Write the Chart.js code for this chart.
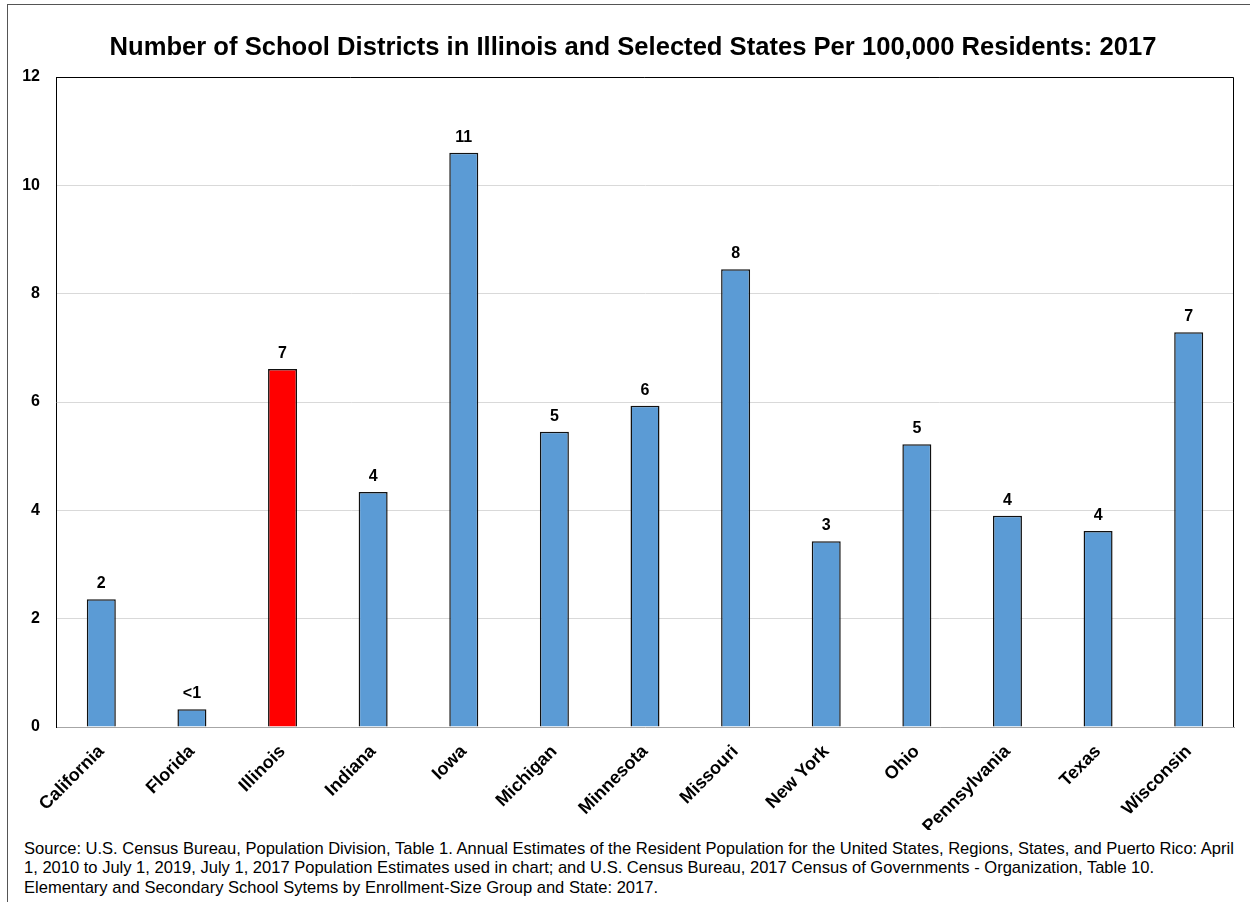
<!DOCTYPE html>
<html>
<head>
<meta charset="utf-8">
<script src="https://cdn.jsdelivr.net/npm/chart.js@4.4.1/dist/chart.umd.min.js"></script>
<style>
  html, body { margin: 0; padding: 0; background: #fff; overflow: hidden; }
  body { width: 1250px; height: 902px; position: relative; }
  #frame { position: absolute; left: 7px; top: 4px; width: 1270px; height: 920px; border: 1px solid #555; box-sizing: border-box; }
  #chart { position: absolute; left: 0; top: 0; }
  #titulo {
    position: absolute; left: 0; top: 31px; width: 1266px; text-align: center; white-space: nowrap;
    font-family: "Liberation Sans", Arial, sans-serif; font-weight: bold; font-size: 25.6px; line-height: 30px; color: #000;
  }
  #source {
    position: absolute; left: 24px; top: 839px; width: 1226px; white-space: nowrap;
    font-family: "Liberation Sans", Arial, sans-serif; font-size: 16.55px; line-height: 19.3px; color: #000;
  }
</style>
</head>
<body>
<div id="frame"></div>
<canvas id="chart" width="1250" height="830"></canvas>
<div id="titulo">Number of School Districts in Illinois and Selected States Per 100,000 Residents: 2017</div>
<div id="source">Source: U.S. Census Bureau, Population Division, Table 1. Annual Estimates of the Resident Population for the United States, Regions, States, and Puerto Rico: April<br>1, 2010 to July 1, 2019, July 1, 2017 Population Estimates used in chart; and U.S. Census Bureau, 2017 Census of Governments - Organization, Table 10.<br>Elementary and Secondary School Sytems by Enrollment-Size Group and State: 2017.</div>
<script>
// Distritos escolares por cada 100.000 habitantes (2017)
const estados = ['California', 'Florida', 'Illinois', 'Indiana', 'Iowa', 'Michigan', 'Minnesota',
  'Missouri', 'New York', 'Ohio', 'Pennsylvania', 'Texas', 'Wisconsin'];
const distritos = [2.36, 0.33, 6.61, 4.34, 10.6, 5.45, 5.93, 8.45, 3.43, 5.22, 3.9, 3.62, 7.29];
const yTicks = [0, 2, 4, 6, 8, 10, 12];

const FONT = '"Liberation Sans", Arial, sans-serif';
const azul = '#5B9BD5';
const rojo = '#FF0000';

// etiquetas encima de cada barra
const etiquetasPlugin = {
  id: 'etiquetas',
  afterDatasetsDraw(chart) {
    const ctx = chart.ctx;
    const meta = chart.getDatasetMeta(0);
    ctx.save();
    ctx.font = 'bold 16px ' + FONT;
    ctx.fillStyle = '#000';
    ctx.textAlign = 'center';
    ctx.textBaseline = 'alphabetic';
    meta.data.forEach((bar, i) => {
      const v = distritos[i];
      const txt = Math.round(v) < 1 ? '<1' : String(Math.round(v));
      ctx.fillText(txt, bar.x, bar.y - 11);
    });
    ctx.restore();
  }
};

// marco negro arriba y a la derecha del área de trazado
const marcoPlugin = {
  id: 'marco',
  afterDraw(chart) {
    const { ctx, chartArea: a } = chart;
    ctx.save();
    ctx.strokeStyle = '#000';
    ctx.lineWidth = 1;
    ctx.beginPath();
    ctx.moveTo(a.left, a.top + 0.5);
    ctx.lineTo(a.right - 0.5, a.top + 0.5);
    ctx.lineTo(a.right - 0.5, a.bottom);
    ctx.stroke();
    ctx.restore();
  }
};

new Chart(document.getElementById('chart').getContext('2d'), {
  type: 'bar',
  data: {
    labels: estados,
    datasets: [{
      data: distritos,
      backgroundColor: estados.map(e => e === 'Illinois' ? rojo : azul),
      borderColor: '#111',
      borderWidth: 1.5,
      categoryPercentage: 1,
      barPercentage: 0.32
    }]
  },
  options: {
    responsive: false,
    animation: false,
    devicePixelRatio: 1,
    layout: { padding: { left: 0, right: 16, top: 77, bottom: 0 } },
    plugins: {
      legend: { display: false },
      tooltip: { enabled: false },
      title: { display: false }
    },
    scales: {
      x: {
        grid: { display: false },
        border: { color: '#a6a6a6', width: 1 },
        ticks: {
          color: '#000',
          font: { family: FONT, size: 18, weight: 'bold' },
          maxRotation: 45,
          minRotation: 45,
          padding: 6,
          autoSkip: false
        },
        afterFit(scale) { scale.height = 103; }
      },
      y: {
        min: 0,
        max: 12,
        grid: { color: '#d9d9d9', drawTicks: false },
        border: { color: '#000', width: 1 },
        afterBuildTicks(scale) { scale.ticks = yTicks.map(v => ({ value: v })); },
        ticks: {
          color: '#000',
          font: { family: FONT, size: 16, weight: 'bold' },
          padding: 16
        },
        afterFit(scale) { scale.width = 56; }
      }
    }
  },
  plugins: [etiquetasPlugin, marcoPlugin]
});
</script>
</body>
</html>
